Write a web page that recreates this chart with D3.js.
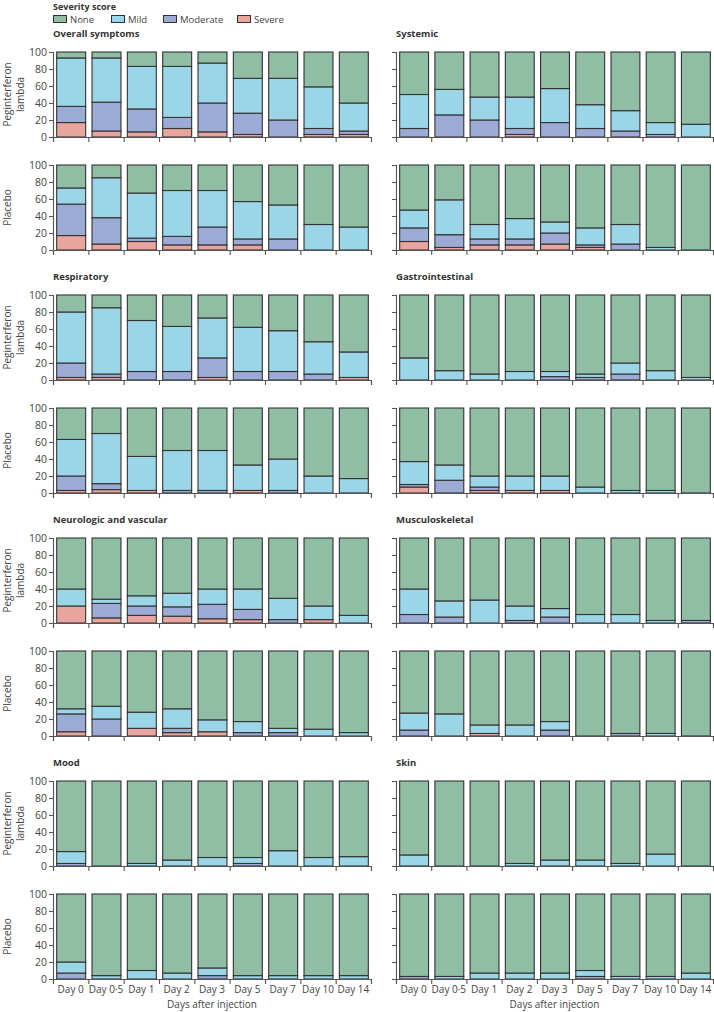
<!DOCTYPE html>
<html>
<head>
<meta charset="utf-8">
<script src="https://cdn.jsdelivr.net/npm/d3@7"></script>
<style>
  html, body { margin: 0; padding: 0; background: #fff; }
  svg { display: block; font-family: "Open Sans", "Noto Sans", sans-serif; }
</style>
</head>
<body>
<svg id="chart" width="714" height="1012"></svg>
<script>
// ---------- DATA ----------
const days = ["Day 0", "Day 0\u00b75", "Day 1", "Day 2", "Day 3", "Day 5", "Day 7", "Day 10", "Day 14"];
const severityKeys = ["Severe", "Moderate", "Mild", "None"];
const legendOrder = ["None", "Mild", "Moderate", "Severe"];
const yTicks = [0, 20, 40, 60, 80, 100];

// each row: [Severe, Moderate, Mild, None] (% of participants), one row per day
const overallPeg = [[17,19,57,7],[7,34,52,7],[6,27,50,17],[10,13,60,17],[6,34,47,13],[3,25,41,31],[0,20,49,31],[3,7,49,41],[3,4,33,60]];
const overallPla = [[17,37,19,27],[7,31,47,15],[10,4,53,33],[6,10,54,30],[6,21,43,30],[6,7,44,43],[0,13,40,47],[0,0,30,70],[0,0,27,73]];
const systemicPeg = [[0,10,40,50],[0,26,30,44],[0,20,27,53],[3,7,37,53],[0,17,40,43],[0,10,28,62],[0,7,24,69],[0,3,14,83],[0,0,15,85]];
const systemicPla = [[10,16,21,53],[3,15,41,41],[6,7,17,70],[6,7,24,63],[7,13,13,67],[3,3,20,74],[0,7,23,70],[0,0,3,97],[0,0,0,100]];
const respPeg = [[3,17,60,20],[3,4,78,15],[0,10,60,30],[0,10,53,37],[3,23,47,27],[0,10,52,38],[0,10,48,42],[0,7,38,55],[3,0,30,67]];
const respPla = [[3,17,43,37],[4,7,59,30],[3,0,40,57],[0,3,47,50],[0,3,47,50],[3,0,30,67],[0,3,37,60],[0,0,20,80],[0,0,17,83]];
const giPeg = [[0,0,26,74],[0,0,11,89],[0,0,7,93],[0,0,10,90],[0,4,6,90],[0,3,4,93],[0,7,13,80],[0,0,11,89],[0,0,3,97]];
const giPla = [[7,3,27,63],[0,15,18,67],[3,4,13,80],[3,0,17,80],[3,0,17,80],[0,0,7,93],[0,0,3,97],[0,0,3,97],[0,0,0,100]];
const neuroPeg = [[20,0,20,60],[6,17,5,72],[9,11,12,68],[8,11,16,65],[5,17,18,60],[4,12,24,60],[0,4,25,71],[4,0,16,80],[0,0,9,91]];
const neuroPla = [[5,21,6,68],[0,20,15,65],[9,0,19,72],[4,5,23,68],[5,0,14,81],[0,4,13,83],[0,4,5,91],[0,0,8,92],[0,0,4,96]];
const muscPeg = [[0,10,30,60],[0,7,19,74],[0,0,27,73],[0,3,17,80],[0,7,10,83],[0,0,10,90],[0,0,10,90],[0,0,3,97],[0,3,0,97]];
const muscPla = [[0,7,20,73],[0,0,26,74],[3,0,10,87],[0,0,13,87],[0,7,10,83],[0,0,0,100],[0,3,0,97],[0,0,3,97],[0,0,0,100]];
const moodPeg = [[0,3,14,83],[0,0,0,100],[0,0,3,97],[0,0,7,93],[0,0,10,90],[0,3,7,90],[0,0,18,82],[0,0,10,90],[0,0,11,89]];
const moodPla = [[0,7,13,80],[0,0,4,96],[0,0,10,90],[0,0,7,93],[0,4,9,87],[0,0,4,96],[0,0,4,96],[0,0,4,96],[0,0,4,96]];
const skinPeg = [[0,0,13,87],[0,0,0,100],[0,0,0,100],[0,0,3,97],[0,0,7,93],[0,0,7,93],[0,0,3,97],[0,0,14,86],[0,0,0,100]];
const skinPla = [[0,3,0,97],[0,0,3,97],[0,0,7,93],[0,0,7,93],[0,0,7,93],[0,3,7,90],[0,0,3,97],[0,0,3,97],[0,0,7,93]];

const panels = [
  { title: "Overall symptoms", col: 0, row: 0, peg: overallPeg, pla: overallPla },
  { title: "Systemic", col: 1, row: 0, peg: systemicPeg, pla: systemicPla },
  { title: "Respiratory", col: 0, row: 1, peg: respPeg, pla: respPla },
  { title: "Gastrointestinal", col: 1, row: 1, peg: giPeg, pla: giPla },
  { title: "Neurologic and vascular", col: 0, row: 2, peg: neuroPeg, pla: neuroPla },
  { title: "Musculoskeletal", col: 1, row: 2, peg: muscPeg, pla: muscPla },
  { title: "Mood", col: 0, row: 3, peg: moodPeg, pla: moodPla },
  { title: "Skin", col: 1, row: 3, peg: skinPeg, pla: skinPla }
];

// ---------- STYLE / LAYOUT ----------
const colors = { None: "#8fbea5", Mild: "#9bd5e8", Moderate: "#9caad6", Severe: "#e7a59d" };
const stroke = "#333";
const axisColor = "#555";
const colX = [[53, 371], [396, 713]];
const groupTop = [52, 295, 538, 781];
const armOffset = 113;
const panelH = 85;

const svg = d3.select("#chart");

// legend
svg.append("text").attr("x", 53).attr("y", 9.5).attr("font-size", 9).attr("font-weight", 700)
  .attr("fill", "#333").text("Severity score");
const legendX = { None: 53, Mild: 111, Moderate: 163, Severe: 237 };
legendOrder.forEach(k => {
  svg.append("rect").attr("x", legendX[k] + 0.5).attr("y", 15.5).attr("width", 13).attr("height", 7)
    .attr("fill", colors[k]).attr("stroke", stroke).attr("stroke-width", 1);
  svg.append("text").attr("x", legendX[k] + 17).attr("y", 22.5).attr("font-size", 9.5)
    .attr("fill", "#444").text(k);
});

const stack = d3.stack().keys([0, 1, 2, 3]).value((d, k) => d[k]);

function drawPanel(data, col, top, showYLabels, showXLabels, armLabel) {
  const [x0, x1] = colX[col];
  const x = d3.scaleBand().domain(days).range([x0, x1]).paddingInner(0.18).paddingOuter(0.09);
  const xi = d3.scaleLinear().domain([0, days.length]).range([x0, x1]);
  const y = d3.scaleLinear().domain([0, 100]).range([top + panelH, top]);
  const g = svg.append("g");

  const series = stack(data);
  series.forEach((s, si) => {
    const key = severityKeys[si];
    g.selectAll(null).data(s.map((d, i) => ({ d, day: days[i] })).filter(e => e.d[1] - e.d[0] > 0))
      .enter().append("rect")
      .attr("x", e => x(e.day) + 0.5)
      .attr("width", x.bandwidth())
      .attr("y", e => y(e.d[1]))
      .attr("height", e => y(e.d[0]) - y(e.d[1]))
      .attr("fill", colors[key])
      .attr("stroke", stroke)
      .attr("stroke-width", 1.1);
  });

  // y axis
  const ya = g.append("g").attr("transform", `translate(${x0},0)`)
    .call(d3.axisLeft(y).tickValues(yTicks).tickSize(4).tickPadding(2)
      .tickFormat(showYLabels ? d3.format("d") : () => ""));
  ya.select(".domain").attr("stroke", axisColor).attr("stroke-width", 1.1);
  ya.selectAll(".tick line").attr("stroke", axisColor).attr("stroke-width", 1.1);
  ya.selectAll(".tick text").attr("font-size", 10.5).attr("fill", "#444")
    .attr("font-family", "'Open Sans', sans-serif");

  // x axis (boundary ticks)
  const xa = g.append("g").attr("transform", `translate(0,${top + panelH})`)
    .call(d3.axisBottom(xi).tickValues(d3.range(0, days.length + 1)).tickSize(5).tickFormat(() => ""));
  xa.select(".domain").attr("stroke", axisColor).attr("stroke-width", 1.1);
  xa.selectAll(".tick line").attr("stroke", axisColor).attr("stroke-width", 1.1);

  if (showXLabels) {
    const xl = g.append("g").attr("transform", `translate(0,${top + panelH})`)
      .call(d3.axisBottom(x).tickSize(0).tickPadding(7));
    xl.select(".domain").remove();
    xl.selectAll(".tick text").attr("font-size", 10).attr("fill", "#444")
      .attr("font-family", "'Open Sans', sans-serif");
    svg.append("text").attr("x", (x0 + x1) / 2).attr("y", 1007.5).attr("text-anchor", "middle")
      .attr("font-size", 10).attr("fill", "#444").text("Days after injection");
  }

  if (armLabel) {
    const mid = top + panelH / 2;
    const t = svg.append("text").attr("transform", `translate(0,${mid}) rotate(-90)`)
      .attr("text-anchor", "middle").attr("font-size", 10).attr("fill", "#444");
    armLabel.forEach((line, i) => {
      t.append("tspan").attr("x", 0).attr("y", 11 + i * 13).text(line);
    });
  }
}

panels.forEach(p => {
  const top = groupTop[p.row];
  svg.append("text").attr("x", colX[p.col][0]).attr("y", top - 15)
    .attr("font-size", 9.5).attr("font-weight", 700).attr("fill", "#333").text(p.title);
  const isLeft = p.col === 0;
  const last = p.row === 3;
  drawPanel(p.peg, p.col, top, isLeft, false, isLeft ? ["Peginterferon", "lambda"] : null);
  drawPanel(p.pla, p.col, top + armOffset, isLeft, last, isLeft ? ["Placebo"] : null);
});
</script>
</body>
</html>
